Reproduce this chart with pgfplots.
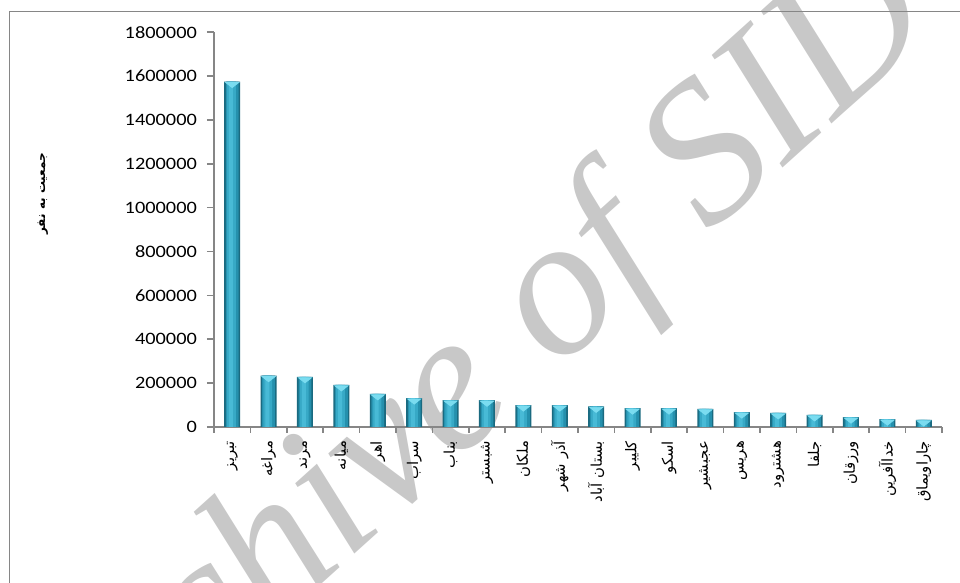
\documentclass[border=0pt]{standalone}
\usepackage{fontspec}
\usepackage{pgfplots}
\pgfplotsset{compat=1.18}
\setmainfont{Carlito}[FakeStretch=1.17]
\newfontfamily\arabicfont[Script=Arabic]{DejaVu Sans}
\newfontfamily\wmfont{Liberation Serif}
\TeXXeTstate=1
\definecolor{axisgray}{HTML}{868686}
\definecolor{wmgray}{HTML}{C8C8C8}
\definecolor{bardark}{HTML}{1A6A80}
\definecolor{barmid}{HTML}{2590AD}
\definecolor{barlight}{HTML}{37A9C6}
\definecolor{barhi}{HTML}{48BAD6}
\definecolor{bartop}{HTML}{7ADCF0}

\pgfplotstableread{
x pop
0 1575000
1 234000
2 229000
3 192000
4 151000
5 132000
6 123000
7 122000
8 100000
9 100000
10 94000
11 86000
12 86000
13 83000
14 68000
15 64000
16 55000
17 45000
18 36000
19 32000
}\popdata

\begin{document}
\begin{tikzpicture}
% watermark
\node[font=\wmfont\itshape\fontsize{100}{100}\selectfont, text=wmgray, rotate=42,
      anchor=base east, inner sep=0pt] at (363.5pt,200.5pt) {Archive of SID};

\begin{axis}[
    at={(0pt,0pt)}, anchor=south west,
    scale only axis,
    width=364pt, height=197.4pt,
    xmin=-0.5, xmax=19.5,
    ymin=0, ymax=1800000,
    axis x line*=bottom,
    axis y line*=left,
    axis line style={draw=axisgray, line width=0.8pt},
    tick align=outside,
    major tick length=3.5pt,
    ytick={0,200000,...,1800000},
    scaled y ticks=false,
    /pgf/number format/.cd, fixed, 1000 sep={}, assume math mode=true, /pgfplots/.cd,
    yticklabel style={font=\fontsize{8.7}{10}\selectfont, text=black, xshift=-1.5pt},
    ytick style={draw=axisgray, line width=0.8pt},
    xtick={0,...,19},
    xtick style={draw=none},
    xticklabels={
      \beginR تبریز\endR, \beginR مراغه\endR, \beginR مرند\endR, \beginR میانه\endR,
      \beginR اهر\endR, \beginR سراب\endR, \beginR بناب\endR, \beginR شبستر\endR,
      \beginR ملکان\endR, \beginR آذر شهر\endR, \beginR بستان آباد\endR, \beginR کلیبر\endR,
      \beginR اسکو\endR, \beginR عجبشیر\endR, \beginR هریس\endR, \beginR هشترود\endR,
      \beginR جلفا\endR, \beginR ورزقان\endR, \beginR خداآفرین\endR, \beginR چاراویماق\endR},
    xticklabel style={rotate=90, anchor=east, font=\arabicfont\fontsize{7.4}{8}\selectfont},
    extra x ticks={-0.5,0.5,...,19.5},
    extra x tick labels={},
    extra x tick style={xtick style={draw=axisgray, line width=0.8pt}, major tick length=3pt},
    ylabel={\beginR جمعیت به نفر\endR},
    ylabel style={at={(axis description cs:-0.235,0.591)}, anchor=center,
                  font=\arabicfont\bfseries\fontsize{6}{6.5}\selectfont},
]
% layered bars give the rounded, shaded look of the original
\addplot[ybar, bar width=8pt, draw=none, fill=bardark] table[x=x, y=pop] {\popdata};
\addplot[ybar, bar width=6.4pt, draw=none, fill=barmid] table[x=x, y=pop] {\popdata};
\addplot[ybar, bar width=4.4pt, draw=none, fill=barlight, bar shift=-0.4pt] table[x=x, y=pop] {\popdata};
\addplot[ybar, bar width=2pt, draw=none, fill=barhi, bar shift=-0.6pt] table[x=x, y=pop] {\popdata};
\addplot[only marks, color=bartop, mark=triangle*, mark size=3.8pt,
         mark options={fill=bartop, draw=bartop, yshift=-1.3pt, yscale=-0.45}]
    table[x=x, y=pop] {\popdata};
\end{axis}

% chart area frame (left and top edges)
\draw[axisgray, line width=0.75pt] (-102.25pt,-78pt) -- (-102.25pt,207.75pt) -- (373pt,207.75pt);
\pgfresetboundingbox
\path[use as bounding box] (-107pt,-78pt) rectangle (373pt,213.5pt);
\end{tikzpicture}
\end{document}
